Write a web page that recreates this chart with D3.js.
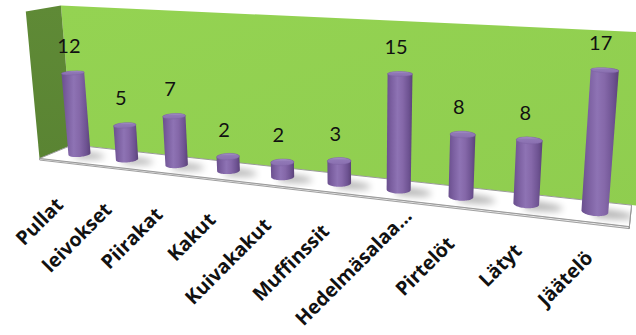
<!DOCTYPE html>
<html>
<head>
<meta charset="utf-8">
<script src="https://cdn.jsdelivr.net/npm/d3@7"></script>
<style>
  html, body { margin: 0; padding: 0; background: #fff; }
  svg { display: block; }
</style>
</head>
<body>
<svg id="chart" width="636" height="335"></svg>
<script>
// Sales counts by product
const categories = ["Pullat", "leivokset", "Piirakat", "Kakut", "Kuivakakut",
                    "Muffinssit", "Hedelmäsalaa…", "Pirtelöt", "Lätyt", "Jäätelö"];
const values = [12, 5, 7, 2, 2, 3, 15, 8, 8, 17];
const valueMax = 21;

const svg = d3.select("#chart");
const height = 335;

// --- 3D world: X along categories, Y up (values), Z depth ---
const x = d3.scaleBand().domain(categories).range([0, 652]).padding(0);
const y = d3.scaleLinear().domain([0, valueMax]).range([0, 170]);
const depth = 30;                 // half depth of the floor
const radius = x.bandwidth() * 0.19;

// camera: yaw, pitch, focal length, image centre, translation
const yaw = 19.1 * Math.PI / 180, pitch = 13.8 * Math.PI / 180;
const focal = 850, cx0 = 359, cy0 = 112;
const T = [-359.6, -46.9, 1010.4];

function project(px, py, pz) {
  const xc = px * Math.cos(yaw) + pz * Math.sin(yaw);
  const z1 = -px * Math.sin(yaw) + pz * Math.cos(yaw);
  const yc = py * Math.cos(pitch) + z1 * Math.sin(pitch);
  const zc = -py * Math.sin(pitch) + z1 * Math.cos(pitch);
  const X = xc + T[0], Y = yc + T[1], Z = zc + T[2];
  return [cx0 + focal * X / Z, cy0 - focal * Y / Z];
}
const poly = pts => "M" + pts.map(p => p.map(v => v.toFixed(2)).join(",")).join("L") + "Z";

// --- gradients & filters ---
const defs = svg.append("defs");
const wallGrad = defs.append("linearGradient").attr("id", "wallGrad")
  .attr("x1", 0).attr("y1", 0).attr("x2", 1).attr("y2", 1);
wallGrad.append("stop").attr("offset", "0%").attr("stop-color", "#94d352");
wallGrad.append("stop").attr("offset", "100%").attr("stop-color", "#8fcd4f");

const sideGrad = defs.append("linearGradient").attr("id", "sideGrad")
  .attr("x1", 0).attr("y1", 0).attr("x2", 0).attr("y2", 1);
sideGrad.append("stop").attr("offset", "0%").attr("stop-color", "#5f8a36");
sideGrad.append("stop").attr("offset", "100%").attr("stop-color", "#5a8433");

const barGrad = defs.append("linearGradient").attr("id", "barGrad")
  .attr("x1", 0).attr("y1", 0).attr("x2", 1).attr("y2", 0);
[["0%", "#6a4f8e"], ["18%", "#7b5fa0"], ["42%", "#8e73b4"], ["62%", "#8568a9"],
 ["85%", "#6e5392"], ["100%", "#5b4279"]]
  .forEach(([o, c]) => barGrad.append("stop").attr("offset", o).attr("stop-color", c));

const topGrad = defs.append("linearGradient").attr("id", "topGrad")
  .attr("x1", 0).attr("y1", 0).attr("x2", 0).attr("y2", 1);
topGrad.append("stop").attr("offset", "0%").attr("stop-color", "#a996c9");
topGrad.append("stop").attr("offset", "35%").attr("stop-color", "#9078b6");
topGrad.append("stop").attr("offset", "100%").attr("stop-color", "#8a6fb0");

defs.append("filter").attr("id", "shadowBlur")
  .attr("x", "-50%").attr("y", "-50%").attr("width", "200%").attr("height", "200%")
  .append("feGaussianBlur").attr("stdDeviation", 3.5);

const [x0, x1] = x.range();
const yTop = y(valueMax);

// back wall
svg.append("path")
  .attr("d", poly([project(x0, 0, depth), project(x1 + 40, 0, depth),
                   project(x1 + 40, yTop, depth), project(x0, yTop, depth)]))
  .attr("fill", "url(#wallGrad)");

// side wall
svg.append("path")
  .attr("d", poly([project(x0, 0, -depth), project(x0, 0, depth),
                   project(x0, yTop, depth), project(x0, yTop, -depth)]))
  .attr("fill", "url(#sideGrad)");

// floor slab: front and right faces, then top
const slab = 2;
svg.append("path")
  .attr("d", poly([project(x0, 0, -depth), project(x1, 0, -depth),
                   project(x1, -slab, -depth), project(x0, -slab, -depth)]))
  .attr("fill", "#e6e6e6").attr("stroke", "#8c8c8c").attr("stroke-width", 0.8);
svg.append("path")
  .attr("d", poly([project(x1, 0, -depth), project(x1, 0, depth),
                   project(x1, -slab, depth), project(x1, -slab, -depth)]))
  .attr("fill", "#e6e6e6").attr("stroke", "#8c8c8c").attr("stroke-width", 0.8);
svg.append("path")
  .attr("d", poly([project(x0, 0, -depth), project(x1, 0, -depth),
                   project(x1, 0, depth), project(x0, 0, depth)]))
  .attr("fill", "#ffffff").attr("stroke", "#9a9a9a").attr("stroke-width", 1);

// soft shadows cast on the floor
const clip = defs.append("clipPath").attr("id", "floorClip");
clip.append("path")
  .attr("d", poly([project(x0, 0, -depth), project(x1, 0, -depth),
                   project(x1, 0, depth), project(x0, 0, depth)]));
const shadowG = svg.append("g").attr("clip-path", "url(#floorClip)");
categories.forEach((c) => {
  const bc = x(c) + x.bandwidth() / 2;
  const pts = [];
  for (let k = 0; k <= 24; k++) {
    const t = Math.PI * (-0.5 + k / 24);
    pts.push(project(bc + radius * 0.6 + 28 * Math.cos(t), 0, radius * 1.0 * Math.sin(t) - 3));
  }
  pts.push(project(bc, 0, radius - 3));
  pts.push(project(bc, 0, -radius - 3));
  shadowG.append("path")
    .attr("d", poly(pts))
    .attr("fill", "#000").attr("opacity", 0.3)
    .attr("filter", "url(#shadowBlur)");
});

// cylinders
const N = 64;
const circle = (bc, h) => d3.range(N).map(k => {
  const t = 2 * Math.PI * k / N;
  return project(bc + radius * Math.cos(t), h, radius * Math.sin(t));
});
const bars = svg.append("g");
categories.forEach((c, i) => {
  const bc = x(c) + x.bandwidth() / 2;
  const h = y(values[i]);
  const base = circle(bc, 0), top = circle(bc, h);
  const hull = d3.polygonHull(base.concat(top));
  bars.append("path").attr("d", poly(hull)).attr("fill", "url(#barGrad)");
  bars.append("path").attr("d", poly(top)).attr("fill", "url(#topGrad)")
    .attr("stroke", "#7a5fa0").attr("stroke-width", 0.4);
});

// value labels above each cylinder
const labels = svg.append("g")
  .attr("font-family", "Lato, 'Open Sans', sans-serif")
  .attr("font-size", 20).attr("fill", "#111");
categories.forEach((c, i) => {
  const bc = x(c) + x.bandwidth() / 2;
  const p = project(bc, y(values[i]), 0);
  labels.append("text")
    .attr("x", p[0] - 4).attr("y", p[1] - 20)
    .attr("text-anchor", "middle")
    .text(values[i]);
});

// category axis labels, rotated; gap below the floor edge narrows toward the front
const labelGap = d3.scaleLinear().domain([0, categories.length - 1]).range([45, 37]);
const bottomLimit = height - 4;
const axisG = svg.append("g")
  .attr("font-family", "'Open Sans', Lato, sans-serif")
  .attr("font-size", 19.5).attr("font-weight", "bold").attr("fill", "#111");
categories.forEach((c, i) => {
  const bc = x(c) + x.bandwidth() / 2;
  const p = project(bc, 0, -depth);
  let ax = p[0] + 1.5, ay = p[1] + labelGap(i);
  const t = axisG.append("text")
    .attr("transform", `translate(${ax.toFixed(1)},${ay.toFixed(1)}) rotate(-45)`)
    .attr("text-anchor", "end")
    .text(c);
  // slide a long label up along its own direction so it stays inside the chart
  const over = t.node().getBoundingClientRect().bottom - bottomLimit;
  if (over > 0) {
    ax += over; ay -= over;
    t.attr("transform", `translate(${ax.toFixed(1)},${ay.toFixed(1)}) rotate(-45)`);
  }
});
</script>
</body>
</html>
